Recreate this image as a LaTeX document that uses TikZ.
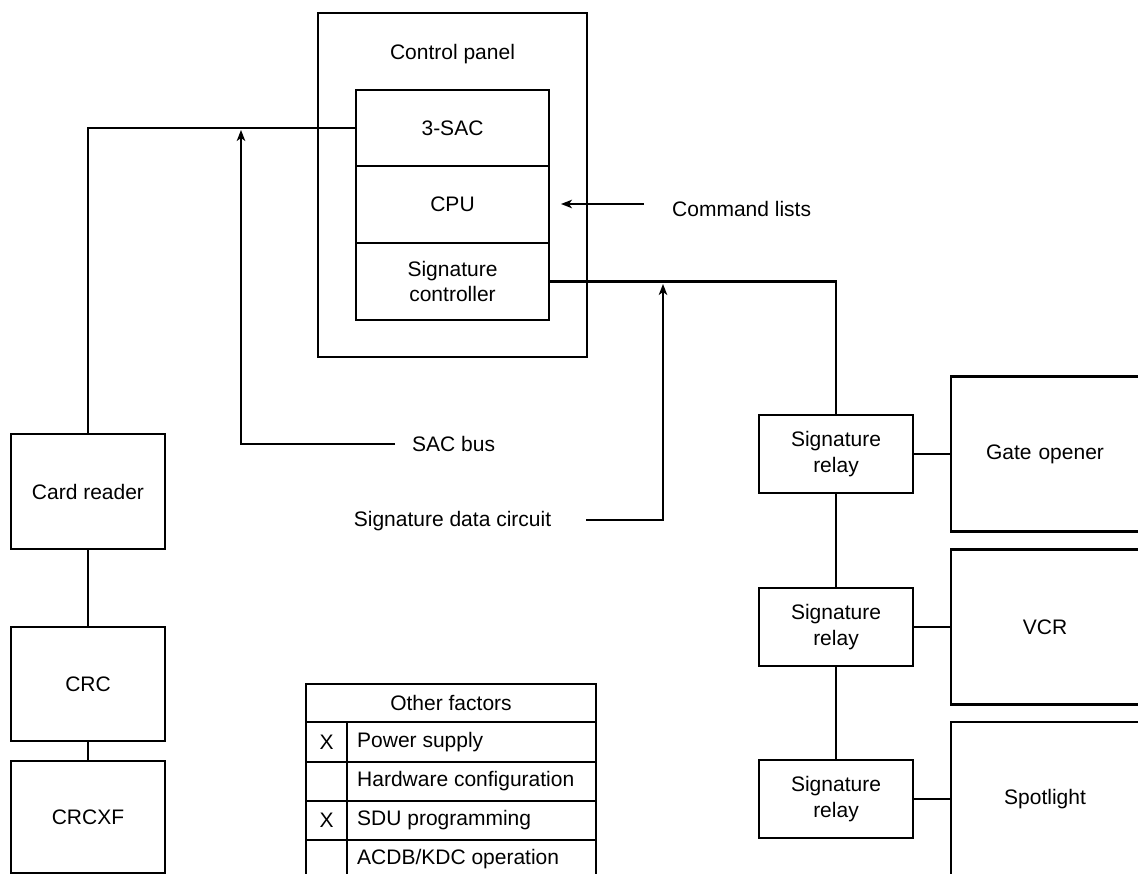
\documentclass[tikz,border=0pt]{standalone}
\usepackage{fontspec}
\setmainfont{Liberation Sans}
\usetikzlibrary{arrows.meta}
\tikzset{
  every node/.style={font=\fontsize{21}{25.5}\selectfont},
  box/.style={draw, line width=2.2pt, align=center, inner sep=0pt},
  conn/.style={line width=2.2pt},
  arr/.style={line width=1.6pt, -{Stealth[length=11pt,width=8.5pt,inset=3pt]}},
  lbl/.style={inner sep=0pt},
  grid/.style={line width=2.2pt}
}
\begin{document}
\begin{tikzpicture}[x=1pt,y=-1pt]
\useasboundingbox (0,0) rectangle (1138,874);
\fill[white] (0,0) rectangle (1138,874);
\clip (0,0) rectangle (1138,874);

% control panel
\node[box, minimum width=269pt, minimum height=344pt] (panel) at (452.5,185) {};
\node[lbl] (paneltitle) at (452.5,54) {Control panel};
\node[box, minimum width=193pt, minimum height=76pt] (sac) at (452.5,128) {3-SAC};
\node[box, minimum width=193pt, minimum height=77pt] (cpu) at (452.5,204.5) {CPU};
\node[box, minimum width=193pt, minimum height=77pt] (sigc) at (452.5,281.5) {Signature\\controller};

% left chain
\node[box, minimum width=154pt, minimum height=115pt] (card) at (88,491.5) {Card reader};
\node[box, minimum width=154pt, minimum height=114pt] (crc) at (88,684) {CRC};
\node[box, minimum width=154pt, minimum height=112pt] (crcxf) at (88,817) {CRCXF};
\draw[conn] (sac.west) -| (card.north);
\draw[conn] (card.south) -- (crc.north);
\draw[conn] (crc.south) -- (crcxf.north);

% right chain
\node[box, minimum width=154pt, minimum height=78pt] (r1) at (836,454) {Signature\\relay};
\node[box, minimum width=154pt, minimum height=78pt] (r2) at (836,627) {Signature\\relay};
\node[box, minimum width=154pt, minimum height=78pt] (r3) at (836,799) {Signature\\relay};
\node[box, minimum width=200pt, minimum height=155pt, text width=200pt] (gate) at (1051,454) {\hspace*{-12pt}Gate opener};
\node[box, minimum width=200pt, minimum height=155pt, text width=200pt] (vcr) at (1051,627) {\hspace*{-12pt}VCR};
\node[box, minimum width=200pt, minimum height=154pt, text width=200pt] (spot) at (1051,799) {\hspace*{-12pt}Spotlight};
\draw[conn] (sigc.east) -| (r1.north);
\draw[conn] (r1.south) -- (r2.north);
\draw[conn] (r2.south) -- (r3.north);
\draw[line width=2.6pt] (r1.east) -- (gate.west);
\draw[line width=2.6pt] (r2.east) -- (vcr.west);
\draw[line width=2.6pt] (r3.east) -- (spot.west);

% labels with arrows
\node[lbl, anchor=west] (saclbl) at (412,444) {SAC bus};
\coordinate (sactip) at (241,130);
\draw[arr] ([xshift=-17pt]saclbl.west) -| (sactip);

\node[lbl] (sdclbl) at (452.5,521) {Signature data circuit};
\coordinate (sdctip) at (663,284);
\draw[arr] ([xshift=35pt,yshift=1pt]sdclbl.east) -| (sdctip);

\node[lbl, anchor=west] (cmdlbl) at (672,209) {Command lists};
\coordinate (cmdtip) at (561,204);
\draw[arr] ([xshift=-28pt,yshift=5pt]cmdlbl.west) -- (cmdtip);

% other factors table
\node[lbl] (tabhead) at (451,703) {Other factors};
\draw[grid] (306,684) rectangle (596,890);
\draw[grid] (306,722) -- (596,722);
\draw[grid] (306,762) -- (596,762);
\draw[grid] (306,801) -- (596,801);
\draw[grid] (306,840) -- (596,840);
\draw[grid] (347,722) -- (347,890);
\node[lbl] (x1) at (326.5,742) {X};
\node[lbl] (x3) at (326.5,820.5) {X};
\node[lbl, anchor=west] (f1) at (357,742) {Power supply};
\node[lbl, anchor=west] (f2) at (357,781.5) {Hardware configuration};
\node[lbl, anchor=west] (f3) at (357,820.5) {SDU programming};
\node[lbl, anchor=west] (f4) at (357,859.5) {ACDB/KDC operation};
\end{tikzpicture}
\end{document}
